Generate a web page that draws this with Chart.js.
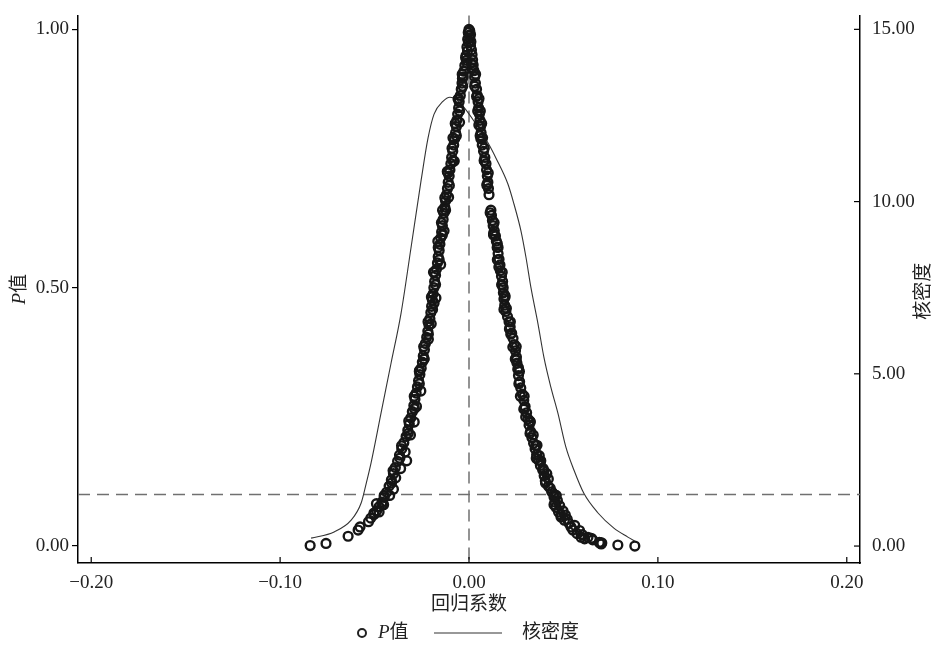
<!DOCTYPE html>
<html>
<head>
<meta charset="utf-8">
<script src="https://cdn.jsdelivr.net/npm/chart.js@4.4.0/dist/chart.umd.min.js"></script>
<style>
  html, body { margin: 0; padding: 0; background: #fff; }
</style>
</head>
<body>
<canvas id="c" width="933" height="654"></canvas>
<script>
// P values against regression coefficient
const leftBranch = [
  [0.0000,1.000],[-0.0004,0.994],[0.0002,0.988],[-0.0007,0.981],[-0.0003,0.974],[-0.0011,0.966],
  [-0.0008,0.958],[-0.0016,0.949],[-0.0013,0.940],[-0.0022,0.930],[-0.0027,0.919],[-0.0031,0.908],
  [-0.0037,0.896],[-0.0041,0.884],[-0.0046,0.872],[-0.0052,0.860],[-0.0055,0.848],[-0.0060,0.836],
  [-0.0064,0.824],[-0.0067,0.812],[-0.0071,0.800],[-0.0076,0.788],[-0.0081,0.776],[-0.0086,0.764],
  [-0.0092,0.752],[-0.0096,0.740],[-0.0101,0.728],[-0.0105,0.716],[-0.0110,0.704],[-0.0114,0.692],
  [-0.0119,0.680],[-0.0124,0.668],[-0.0128,0.656],[-0.0133,0.644],[-0.0137,0.632],[-0.0141,0.620],
  [-0.0145,0.608],[-0.0150,0.596],[-0.0154,0.584],[-0.0158,0.572],[-0.0163,0.560],[-0.0167,0.548],
  [-0.0172,0.536],[-0.0177,0.524],[-0.0182,0.512],[-0.0186,0.500],[-0.0190,0.488],[-0.0194,0.476],
  [-0.0198,0.464],[-0.0202,0.452],[-0.0207,0.440],[-0.0212,0.428],[-0.0218,0.416],[-0.0224,0.404],
  [-0.0231,0.392],[-0.0236,0.380],[-0.0242,0.368],[-0.0247,0.356],[-0.0253,0.344],[-0.0260,0.332],
  [-0.0267,0.320],[-0.0273,0.308],[-0.0280,0.296],[-0.0286,0.284],[-0.0292,0.272],[-0.0300,0.260],
  [-0.0308,0.248],[-0.0316,0.236],[-0.0324,0.224],[-0.0333,0.212],[-0.0345,0.200],[-0.0356,0.188],
  [-0.0368,0.176],[-0.0378,0.164],[-0.0390,0.152],[-0.0400,0.140],[-0.0411,0.128],[-0.0423,0.116],
  [-0.0436,0.104],[-0.0449,0.094],[-0.0461,0.085],[-0.0476,0.076],[-0.0489,0.068],[-0.0503,0.061],
  [-0.0520,0.054],[-0.0532,0.047],[-0.0577,0.037],[-0.0587,0.031],[-0.0640,0.019],[-0.0757,0.005],
  [-0.0841,0.001]
];
const leftExtra = [
  [-0.0018,0.945],[-0.0035,0.905],[-0.0058,0.865],[-0.0050,0.820],[-0.0085,0.790],[-0.0078,0.745],
  [-0.0115,0.725],[-0.0108,0.675],[-0.0140,0.650],[-0.0132,0.610],[-0.0165,0.590],[-0.0150,0.545],
  [-0.0188,0.530],[-0.0175,0.480],[-0.0185,0.470],[-0.0200,0.430],[-0.0215,0.400],[-0.0238,0.362],
  [-0.0262,0.340],[-0.0255,0.300],[-0.0278,0.270],[-0.0290,0.240],[-0.0310,0.215],[-0.0338,0.182],
  [-0.0330,0.165],[-0.0362,0.150],[-0.0388,0.132],[-0.0400,0.110],[-0.0420,0.098],[-0.0452,0.080],
  [-0.0476,0.066],[-0.0490,0.082]
];
const leftFill = [
  [-0.0011,0.935],[-0.0036,0.913],[-0.0033,0.890],[-0.0055,0.866],[-0.0050,0.842],[-0.0073,0.818],
  [-0.0067,0.794],[-0.0090,0.770],[-0.0086,0.746],[-0.0111,0.722],[-0.0104,0.698],[-0.0128,0.674],
  [-0.0124,0.650],[-0.0146,0.626],[-0.0141,0.602],[-0.0163,0.578],[-0.0158,0.554],[-0.0182,0.530],
  [-0.0177,0.506],[-0.0199,0.482],[-0.0193,0.458],[-0.0217,0.434],[-0.0215,0.410],[-0.0240,0.386],
  [-0.0238,0.362],[-0.0263,0.338],[-0.0263,0.314],[-0.0290,0.290],[-0.0289,0.266],[-0.0319,0.242],
  [-0.0322,0.218],[-0.0357,0.194],[-0.0366,0.170],[-0.0402,0.146],[-0.0410,0.122],[-0.0449,0.098],
  [-0.0461,0.080],[-0.0503,0.064]
];
const rightBranch = [
  [0.0004,0.997],[0.0008,0.990],[0.0004,0.983],[0.0010,0.976],[0.0008,0.968],[0.0013,0.960],
  [0.0016,0.951],[0.0019,0.941],[0.0022,0.931],[0.0026,0.920],[0.0030,0.908],[0.0034,0.896],
  [0.0040,0.884],[0.0044,0.872],[0.0048,0.860],[0.0051,0.848],[0.0055,0.836],[0.0058,0.824],
  [0.0061,0.812],[0.0064,0.800],[0.0063,0.788],[0.0070,0.776],[0.0077,0.764],[0.0084,0.752],
  [0.0090,0.740],[0.0093,0.728],[0.0097,0.716],[0.0100,0.704],[0.0103,0.692],[0.0106,0.680],
  [0.0116,0.650],[0.0119,0.640],[0.0124,0.630],[0.0128,0.620],[0.0134,0.610],[0.0140,0.600],
  [0.0145,0.590],[0.0149,0.578],[0.0154,0.566],[0.0159,0.555],[0.0164,0.544],[0.0166,0.533],
  [0.0172,0.522],[0.0178,0.512],[0.0181,0.500],[0.0182,0.490],[0.0185,0.478],[0.0189,0.466],
  [0.0195,0.454],[0.0204,0.444],[0.0212,0.434],[0.0218,0.424],[0.0226,0.412],[0.0233,0.402],
  [0.0240,0.390],[0.0246,0.378],[0.0251,0.366],[0.0254,0.354],[0.0258,0.342],[0.0262,0.330],
  [0.0268,0.318],[0.0274,0.306],[0.0282,0.294],[0.0290,0.282],[0.0297,0.270],[0.0305,0.258],
  [0.0312,0.246],[0.0318,0.234],[0.0326,0.222],[0.0333,0.210],[0.0342,0.199],[0.0350,0.188],
  [0.0358,0.177],[0.0368,0.166],[0.0378,0.156],[0.0390,0.147],[0.0398,0.136],[0.0404,0.126],
  [0.0420,0.116],[0.0438,0.105],[0.0450,0.095],[0.0455,0.085],[0.0460,0.075],[0.0474,0.066],
  [0.0487,0.056],[0.0505,0.050],[0.0529,0.044],[0.0540,0.037],[0.0550,0.031],[0.0572,0.024],
  [0.0593,0.017],[0.0612,0.014],[0.0630,0.017],[0.0655,0.012],[0.0690,0.007],[0.0698,0.005],
  [0.0703,0.006],[0.0700,0.004],[0.0695,0.006],[0.0788,0.002],[0.0878,0.000]
];
const rightExtra = [
  [0.0020,0.925],[0.0040,0.870],[0.0060,0.842],[0.0052,0.815],[0.0072,0.790],[0.0082,0.745],
  [0.0095,0.700],[0.0112,0.645],[0.0130,0.605],[0.0150,0.585],[0.0158,0.540],[0.0175,0.505],
  [0.0190,0.485],[0.0198,0.460],[0.0214,0.420],[0.0232,0.385],[0.0250,0.360],[0.0262,0.345],
  [0.0272,0.290],[0.0290,0.265],[0.0300,0.250],[0.0325,0.240],[0.0340,0.215],[0.0360,0.195],
  [0.0372,0.175],[0.0380,0.165],[0.0392,0.150],[0.0412,0.140],[0.0420,0.130],[0.0430,0.112],
  [0.0462,0.098],[0.0468,0.088],[0.0480,0.078],[0.0498,0.068],[0.0510,0.060],[0.0520,0.052],
  [0.0560,0.040],[0.0585,0.030],[0.0600,0.022],[0.0648,0.015]
];
const rightFill = [
  [0.0013,0.935],[0.0035,0.913],[0.0030,0.890],[0.0053,0.866],[0.0046,0.842],[0.0067,0.818],
  [0.0059,0.794],[0.0081,0.770],[0.0080,0.746],[0.0102,0.722],[0.0095,0.698],[0.0133,0.626],
  [0.0130,0.602],[0.0154,0.578],[0.0150,0.554],[0.0176,0.530],[0.0173,0.506],[0.0191,0.482],
  [0.0185,0.458],[0.0219,0.434],[0.0221,0.410],[0.0250,0.386],[0.0245,0.362],[0.0267,0.338],
  [0.0264,0.314],[0.0292,0.290],[0.0294,0.266],[0.0322,0.242],[0.0323,0.218],[0.0353,0.194],
  [0.0356,0.170],[0.0397,0.146],[0.0405,0.122],[0.0451,0.100],[0.0450,0.080],[0.0487,0.060]
];

// kernel density curve (right axis)
const kdeCoef = [-0.0836,-0.0714,-0.0624,-0.0571,-0.0545,-0.0519,-0.0466,-0.0413,-0.0360,-0.0307,
  -0.0254,-0.0217,-0.0185,-0.0138,-0.0101,-0.0069,-0.0032,0.0026,0.0101,0.0143,0.0206,0.0238,
  0.0275,0.0302,0.0328,0.0365,0.0397,0.0434,0.0471,0.0513,0.0556,0.0608,0.0683,0.0767,0.0841,0.0884];
const kdeDensity = [0.23,0.41,0.75,1.25,1.80,2.40,3.85,5.30,6.75,8.66,
  10.60,11.84,12.54,12.91,13.03,12.97,12.77,12.34,11.70,11.26,10.51,9.93,
  9.15,8.37,7.50,6.46,5.47,4.60,3.85,2.87,2.20,1.53,0.96,0.52,0.26,0.12];

const xTicks = [-0.2, -0.1, 0, 0.1, 0.2];
const pTicks = [0, 0.5, 1];
const densTicks = [0, 5, 10, 15];
const refCoef = 0;
const refP = 0.1;

const serif = "'Liberation Serif', 'Times New Roman', serif";
const cjk = "'Liberation Serif', 'Noto Sans CJK SC', serif";
const fmt = v => (v < 0 ? '\u2212' : '') + Math.abs(v).toFixed(2);

const points = leftBranch.concat(leftExtra, leftFill, rightBranch, rightExtra, rightFill)
  .map(([x, p]) => ({ x: x, y: p }));
const kde = kdeCoef.map((x, i) => ({ x: x, y: kdeDensity[i] }));

function drawParts(ctx, parts, x, y, align) {
  let total = 0;
  parts.forEach(p => { ctx.font = p.f; p.w = ctx.measureText(p.t).width; total += p.w; });
  let cx = align === 'center' ? x - total / 2 : x;
  ctx.textAlign = 'left';
  ctx.textBaseline = 'middle';
  parts.forEach(p => { ctx.font = p.f; ctx.fillText(p.t, cx, y); cx += p.w; });
}

const decor = {
  id: 'decor',
  beforeDatasetsDraw(chart) {
    const { ctx, chartArea: a, scales } = chart;
    ctx.save();
    ctx.strokeStyle = '#707070';
    ctx.lineWidth = 1.5;
    ctx.setLineDash([12, 7]);
    const vx = scales.x.getPixelForValue(refCoef);
    ctx.beginPath(); ctx.moveTo(vx, a.top); ctx.lineTo(vx, a.bottom); ctx.stroke();
    const hy = scales.y.getPixelForValue(refP);
    ctx.beginPath(); ctx.moveTo(a.left, hy); ctx.lineTo(a.right, hy); ctx.stroke();
    ctx.restore();
  },
  afterDraw(chart) {
    const { ctx, chartArea: a, scales } = chart;
    ctx.save();
    // inward tick marks on bottom and right axes
    ctx.strokeStyle = '#000';
    ctx.lineWidth = 1.2;
    xTicks.forEach(v => {
      const px = scales.x.getPixelForValue(v);
      ctx.beginPath(); ctx.moveTo(px, a.bottom); ctx.lineTo(px, a.bottom - 6); ctx.stroke();
    });
    densTicks.forEach(v => {
      const py = scales.y2.getPixelForValue(v);
      ctx.beginPath(); ctx.moveTo(a.right, py); ctx.lineTo(a.right - 6, py); ctx.stroke();
    });

    ctx.fillStyle = '#222';
    // axis titles
    drawParts(ctx, [{ t: '回归系数', f: '19px ' + cjk }], (a.left + a.right) / 2, 605, 'center');
    ctx.save();
    ctx.translate(20, (a.top + a.bottom) / 2);
    ctx.rotate(-Math.PI / 2);
    drawParts(ctx, [{ t: 'P', f: 'italic 19px ' + serif }, { t: '值', f: '19px ' + cjk }], 0, 0, 'center');
    ctx.restore();
    ctx.save();
    ctx.translate(924, (a.top + a.bottom) / 2 + 2);
    ctx.rotate(-Math.PI / 2);
    drawParts(ctx, [{ t: '核密度', f: '19px ' + cjk }], 0, 0, 'center');
    ctx.restore();

    // legend
    const ly = 633;
    ctx.strokeStyle = '#222';
    ctx.lineWidth = 2;
    ctx.beginPath(); ctx.arc(362, ly, 4, 0, Math.PI * 2); ctx.stroke();
    drawParts(ctx, [{ t: 'P', f: 'italic 19px ' + serif }, { t: '值', f: '19px ' + cjk }], 378, ly, 'left');
    ctx.lineWidth = 1.2;
    ctx.strokeStyle = '#333';
    ctx.beginPath(); ctx.moveTo(434, ly); ctx.lineTo(502, ly); ctx.stroke();
    drawParts(ctx, [{ t: '核密度', f: '19px ' + cjk }], 522, ly, 'left');
    ctx.restore();
  }
};

new Chart(document.getElementById('c'), {
  type: 'scatter',
  data: {
    datasets: [
      {
        label: 'P值',
        data: points,
        pointRadius: 4.4,
        pointBorderWidth: 2.4,
        pointBackgroundColor: 'rgba(0,0,0,0)',
        pointBorderColor: '#161616',
        yAxisID: 'y'
      },
      {
        label: '核密度',
        type: 'line',
        data: kde,
        showLine: true,
        borderColor: '#333',
        borderWidth: 1.1,
        pointRadius: 0,
        cubicInterpolationMode: 'monotone',
        fill: false,
        yAxisID: 'y2'
      }
    ]
  },
  options: {
    responsive: false,
    animation: false,
    layout: { padding: { top: 14, left: 0, right: 0, bottom: 0 } },
    plugins: { legend: { display: false }, tooltip: { enabled: false } },
    scales: {
      x: {
        type: 'linear',
        min: -0.207, max: 0.207,
        afterBuildTicks: s => { s.ticks = xTicks.map(v => ({ value: v })); },
        afterFit: s => { s.height = 91; },
        grid: { display: false },
        border: { display: true, color: '#000', width: 1.5 },
        ticks: { callback: fmt, color: '#222', padding: 1, maxRotation: 0,
                 font: { family: serif, size: 19 } }
      },
      y: {
        type: 'linear', position: 'left',
        min: -0.0328, max: 1.027,
        afterBuildTicks: s => { s.ticks = pTicks.map(v => ({ value: v })); },
        afterFit: s => { s.width = 78; },
        grid: { drawOnChartArea: false, drawTicks: true, tickLength: 6, color: '#000', lineWidth: 1.2 },
        border: { display: true, color: '#000', width: 1.5 },
        ticks: { callback: fmt, color: '#222', padding: 3, font: { family: serif, size: 19 } }
      },
      y2: {
        type: 'linear', position: 'right',
        min: -0.492, max: 15.405,
        afterBuildTicks: s => { s.ticks = densTicks.map(v => ({ value: v })); },
        afterFit: s => { s.width = 73; },
        grid: { display: false },
        border: { display: true, color: '#000', width: 1.5 },
        ticks: { callback: fmt, color: '#222', padding: 4, font: { family: serif, size: 19 } }
      }
    }
  },
  plugins: [decor]
});
</script>
</body>
</html>
